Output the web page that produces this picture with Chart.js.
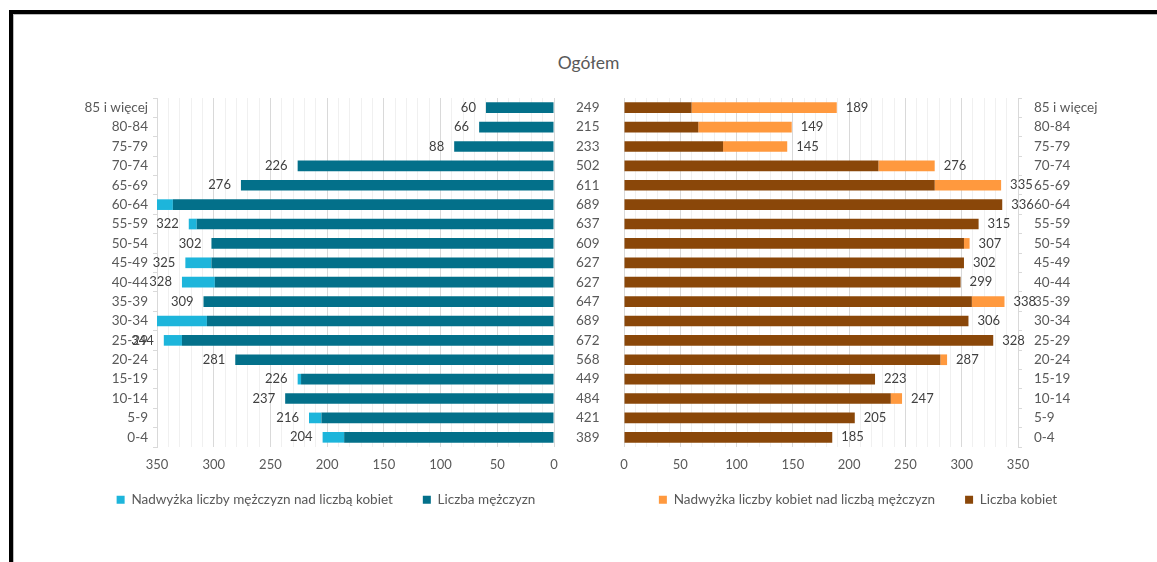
<!DOCTYPE html>
<html>
<head>
<meta charset="utf-8">
<script src="https://cdn.jsdelivr.net/npm/chart.js@4/dist/chart.umd.min.js"></script>
<style>
  html, body { margin:0; padding:0; background:#fff; }
  body { width:1157px; height:562px; position:relative; overflow:hidden; font-family: Lato, "Open Sans", sans-serif; }
  #frame { position:absolute; left:9px; top:10px; width:1300px; height:700px; border-left:4px solid #000; border-top:4px solid #000; box-sizing:border-box; }
  #frame::after { content:""; position:absolute; left:0; top:0; right:0; bottom:0; border-left:1px solid #bbb; border-top:1px solid #bbb; }
  #title { position:absolute; left:0; width:1177px; top:52px; text-align:center; font-size:17.5px; color:#595959; }
  #c1wrap { position:absolute; left:0; top:0; width:615px; height:562px; }
  #c2wrap { position:absolute; left:600px; top:0; width:557px; height:562px; }
</style>
</head>
<body>
<div id="frame"></div>
<div id="title">Ogółem</div>
<div id="c1wrap"><canvas id="c1"></canvas></div>
<div id="c2wrap"><canvas id="c2"></canvas></div>
<script>
const ageGroups = ["85 i więcej","80-84","75-79","70-74","65-69","60-64","55-59","50-54","45-49","40-44","35-39","30-34","25-29","20-24","15-19","10-14","5-9","0-4"];
const men   = [60, 66, 88, 226, 276, 353, 322, 302, 325, 328, 309, 383, 344, 281, 226, 237, 216, 204];
const women = [189, 149, 145, 276, 335, 336, 315, 307, 302, 299, 338, 306, 328, 287, 223, 247, 205, 185];
const totals = ["249","215","233","502","611","689","637","609","627","627","647","689","672","568","449","484","421","389"];
const xTickValues = [0, 50, 100, 150, 200, 250, 300, 350];

const common = men.map((m, i) => Math.min(m, women[i]));
const menExcess = men.map((m, i) => Math.max(0, m - women[i]));
const womenExcess = women.map((w, i) => Math.max(0, w - men[i]));

const FONT = "Lato, 'Open Sans', sans-serif";
const TXT = '#595959';
Chart.defaults.font.family = FONT;
Chart.defaults.color = TXT;
Chart.defaults.animation = false;

function gridColor(ctx) {
  if (!ctx.tick) return '#e6e6e6';
  return (ctx.tick.value % 50 === 0) ? '#d9d9d9' : '#f0f0f0';
}

function labelPlugin(values, side) {
  return {
    id: 'endLabels' + side,
    afterDatasetsDraw(chart) {
      const { ctx, scales } = chart;
      const xs = scales.x, ys = scales.y;
      ctx.save();
      ctx.font = "13px " + FONT;
      ctx.fillStyle = '#404040';
      ctx.textBaseline = 'middle';
      values.forEach((v, i) => {
        if (v > xs.max) return;
        const px = xs.getPixelForValue(v);
        const py = ys.getPixelForValue(i);
        if (side === 'left') { ctx.textAlign = 'right'; ctx.fillText(String(v), px - 10, py); }
        else { ctx.textAlign = 'left'; ctx.fillText(String(v), px + 9, py); }
      });
      ctx.restore();
    }
  };
}

function legendShift(dx, dy) {
  return {
    id: 'legendShift',
    afterLayout(chart) {
      const lg = chart.legend;
      if (!lg) return;
      lg.left += dx; lg.right += dx;
      lg.top += dy; lg.bottom += dy;
      if (lg.legendHitBoxes) lg.legendHitBoxes.forEach(b => { b.left += dx; b.top += dy; });
    }
  };
}

const legendOpts = {
  position: 'bottom',
  reverse: true,
  labels: { boxWidth: 8, boxHeight: 8, font: { size: 13.5 }, color: TXT, padding: 30 }
};

new Chart(document.getElementById('c1'), {
  type: 'bar',
  data: {
    labels: ageGroups,
    datasets: [
      { label: 'Liczba mężczyzn', data: common, backgroundColor: '#03708A', barPercentage: 0.55, categoryPercentage: 1 },
      { label: 'Nadwyżka liczby mężczyzn nad liczbą kobiet', data: menExcess, backgroundColor: '#1DB5DB', barPercentage: 0.55, categoryPercentage: 1 }
    ]
  },
  options: {
    indexAxis: 'y',
    responsive: true,
    maintainAspectRatio: false,
    layout: { padding: { top: 98, bottom: 23.5, left: 0, right: 0 } },
    scales: {
      x: {
        stacked: true, reverse: true, min: 0, max: 350,
        ticks: { stepSize: 10, autoSkip: false, maxRotation: 0, padding: 10, font: { size: 13 }, color: TXT,
          callback: v => xTickValues.includes(v) ? String(v) : '' },
        grid: { color: gridColor, drawTicks: false },
        border: { display: false },
        afterFit: s => { s.height = 38; }
      },
      y: {
        stacked: true, position: 'left',
        ticks: { font: { size: 13.5 }, color: TXT, padding: 5, autoSkip: false },
        grid: { drawOnChartArea: false, tickLength: 4, color: '#d9d9d9' },
        border: { display: true, color: '#d9d9d9' },
        afterFit: s => { s.width = 157; }
      },
      y2: {
        type: 'category', position: 'right', labels: totals, offset: true,
        ticks: { font: { size: 13.5 }, color: TXT, padding: 22, autoSkip: false },
        grid: { display: false, drawTicks: false },
        border: { display: false },
        afterFit: s => { s.width = 61; }
      }
    },
    plugins: { legend: legendOpts, tooltip: { enabled: false } }
  },
  plugins: [labelPlugin(men, 'left'), legendShift(18.5, -22)]
});

new Chart(document.getElementById('c2'), {
  type: 'bar',
  data: {
    labels: ageGroups,
    datasets: [
      { label: 'Liczba kobiet', data: common, backgroundColor: '#8A4709', barPercentage: 0.55, categoryPercentage: 1 },
      { label: 'Nadwyżka liczby kobiet nad liczbą mężczyzn', data: womenExcess, backgroundColor: '#FF993E', barPercentage: 0.55, categoryPercentage: 1 }
    ]
  },
  options: {
    indexAxis: 'y',
    responsive: true,
    maintainAspectRatio: false,
    layout: { padding: { top: 98, bottom: 23.5, left: 24, right: 0 } },
    scales: {
      x: {
        stacked: true, min: 0, max: 350,
        ticks: { stepSize: 10, autoSkip: false, maxRotation: 0, padding: 10, font: { size: 13 }, color: TXT,
          callback: v => xTickValues.includes(v) ? String(v) : '' },
        grid: { color: gridColor, drawTicks: false },
        border: { display: false },
        afterFit: s => { s.height = 38; }
      },
      y: {
        stacked: true, position: 'right',
        ticks: { font: { size: 13.5 }, color: TXT, padding: 12, autoSkip: false },
        grid: { drawOnChartArea: false, tickLength: 4, color: '#d9d9d9' },
        border: { display: true, color: '#d9d9d9' },
        afterFit: s => { s.width = 139; }
      }
    },
    plugins: { legend: legendOpts, tooltip: { enabled: false } }
  },
  plugins: [labelPlugin(women, 'right'), legendShift(-32.5, -22)]
});
</script>
</body>
</html>
